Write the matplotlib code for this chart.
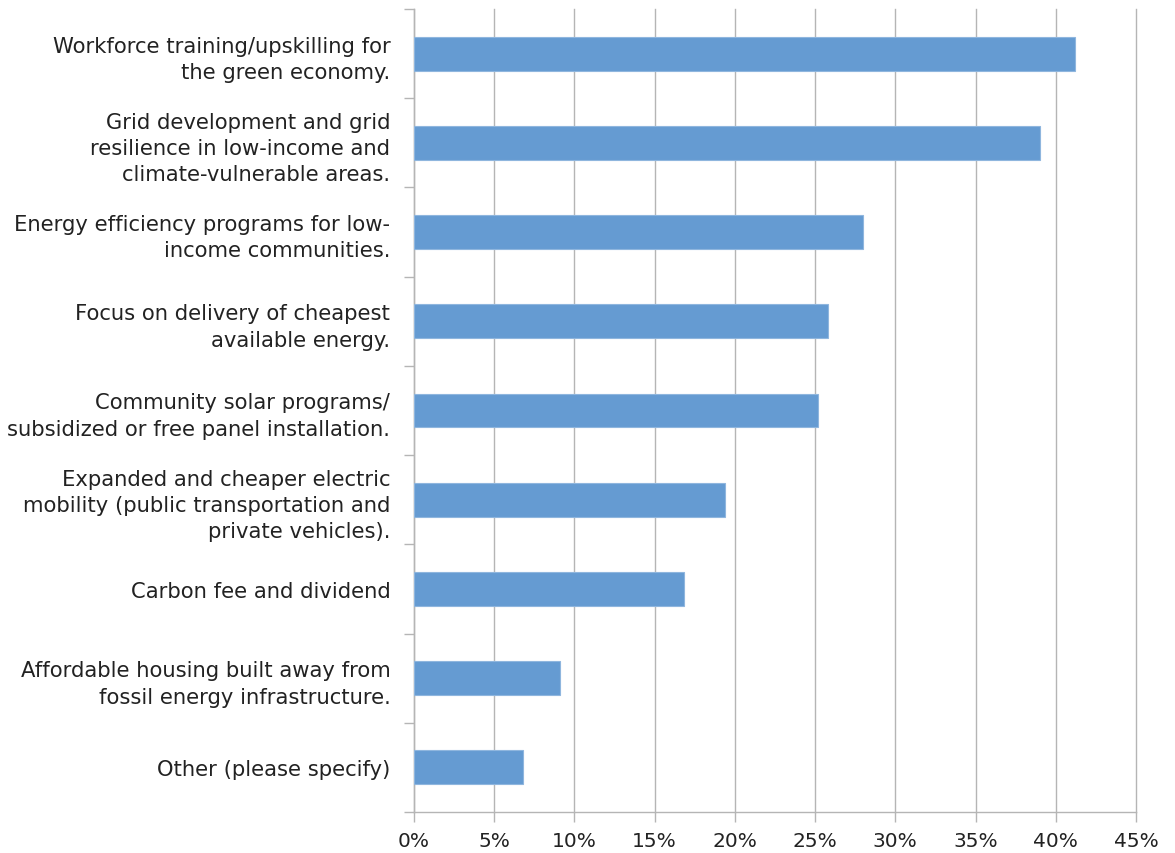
import numpy as np
import matplotlib.pyplot as plt

plt.rcParams["font.family"] = ["DejaVu Sans"]

categories = [
    "Workforce training/upskilling for\nthe green economy.",
    "Grid development and grid\nresilience in low-income and\nclimate-vulnerable areas.",
    "Energy efficiency programs for low-\nincome communities.",
    "Focus on delivery of cheapest\navailable energy.",
    "Community solar programs/\nsubsidized or free panel installation.",
    "Expanded and cheaper electric\nmobility (public transportation and\nprivate vehicles).",
    "Carbon fee and dividend",
    "Affordable housing built away from\nfossil energy infrastructure.",
    "Other (please specify)",
]
shares = [41.2, 39.0, 28.0, 25.8, 25.2, 19.4, 16.8, 9.1, 6.8]
xticks = [0, 5, 10, 15, 20, 25, 30, 35, 40, 45]

grid_col = "#b5b5b5"
bar_col = "#659bd2"
text_col = "#222222"

fig = plt.figure(figsize=(11.75, 8.54), dpi=100)
ax = fig.add_axes([0.3523, 0.0480, 0.6145, 0.9403])

n = len(categories)
ypos = np.arange(n)
ax.barh(ypos, shares, height=0.38, color=bar_col, edgecolor="#8fb6de",
        linewidth=0.8, zorder=3)

ax.set_xlim(0, 45)
ax.set_ylim(n - 0.5, -0.5)
ax.set_xticks(xticks)
ax.set_xticklabels([f"{t}%" for t in xticks])

# category labels sit between the boundary ticks
ax.set_yticks(ypos)
ax.set_yticklabels(categories, linespacing=1.4)
ax.set_yticks(np.arange(n + 1) - 0.5, minor=True)
ax.tick_params(axis="y", which="major", length=0, pad=17, labelsize=15.2,
               labelcolor=text_col)
ax.tick_params(axis="y", which="minor", length=7, width=1, color=grid_col,
               direction="out")
ax.tick_params(axis="x", length=7, width=1, color=grid_col, pad=7,
               labelsize=14.5, labelcolor=text_col)

ax.grid(axis="x", color=grid_col, linewidth=1, zorder=0)
for gl in ax.get_xgridlines():
    gl.set_clip_on(False)
for side in ["top", "right"]:
    ax.spines[side].set_visible(False)
for side in ["left", "bottom"]:
    ax.spines[side].set_color(grid_col)
    ax.spines[side].set_linewidth(1)

fig.savefig("out.png", dpi=100)
